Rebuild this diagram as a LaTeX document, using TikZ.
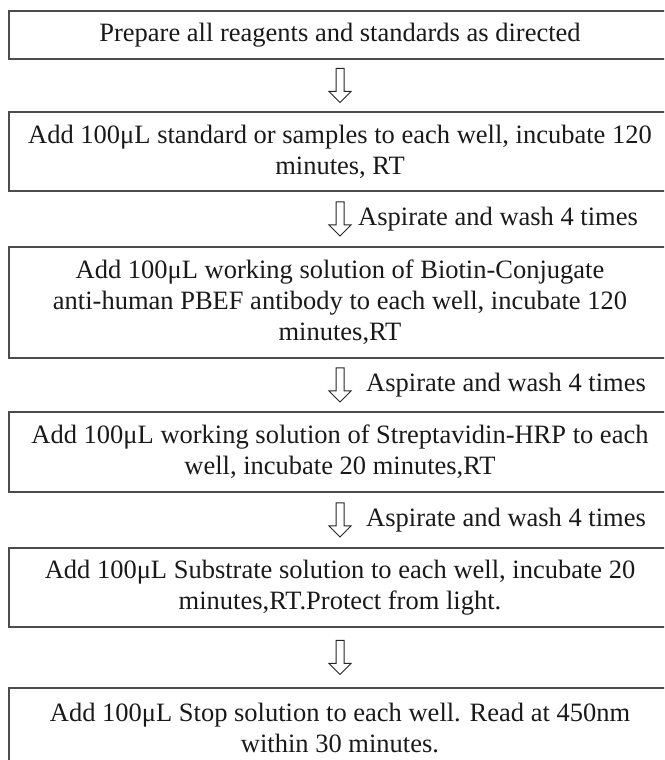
\documentclass[tikz,border=0pt]{standalone}
\usepackage{fontspec}
\setmainfont{Liberation Serif}
\usetikzlibrary{calc,positioning}

\newcommand{\washarrow}[3]{%
  \coordinate (#3) at ($(#1.south)!0.5!(#2.north)$);
  \draw[hollow] (#3) ++(-4,17) -- ++(8,0) -- ++(0,-23) -- ++(7,0) -- ++(-11,-11)
    -- ++(-11,11) -- ++(7,0) -- cycle;
}

\begin{document}
\begin{tikzpicture}[x=1pt,y=1pt,
  stepbox/.style={draw=black!70, line width=1.2pt, minimum width=662pt, align=center,
    inner sep=0pt, font=\fontsize{26.5}{31}\selectfont, text=black!90},
  hollow/.style={draw=black!85, line width=1pt, fill=white},
  note/.style={inner sep=0pt, font=\fontsize{26.5}{31}\selectfont, text=black!90}]
  \useasboundingbox (0,0) rectangle (664,760);
  \clip (0,0) rectangle (664,760);
  \node[stepbox, minimum height=48pt] (prep) at (340,725) {Prepare all reagents and standards as directed};
  \node[stepbox, minimum height=79pt] (std) at (340,608.5) {Add 100μL standard or samples to each well, incubate 120\\minutes, RT};
  \node[stepbox, minimum height=111pt] (biotin) at (340,457.5) {Add 100μL working solution of Biotin-Conjugate\\anti-human PBEF antibody to each well, incubate 120\\minutes,RT};
  \node[stepbox, minimum height=80pt] (hrp) at (340,308) {Add 100μL working solution of Streptavidin-HRP to each\\well, incubate 20 minutes,RT};
  \node[stepbox, minimum height=79pt] (sub) at (340,172.5) {Add 100μL Substrate solution to each well, incubate 20\\minutes,RT.Protect from light.};
  \node[stepbox, minimum height=80pt] (stop) at (340,32) {Add 100μL Stop solution to each well. Read at 450nm\\within 30 minutes.};
  \washarrow{prep}{std}{m1}
  \washarrow{std}{biotin}{m2}
  \washarrow{biotin}{hrp}{m3}
  \washarrow{hrp}{sub}{m4}
  \washarrow{sub}{stop}{m5}
  \node[note, right=18pt of m2] (w1) {Aspirate and wash 4 times};
  \node[note, right=26pt of m3] (w2) {Aspirate and wash 4 times};
  \node[note, right=26pt of m4] (w3) {Aspirate and wash 4 times};
\end{tikzpicture}
\end{document}
